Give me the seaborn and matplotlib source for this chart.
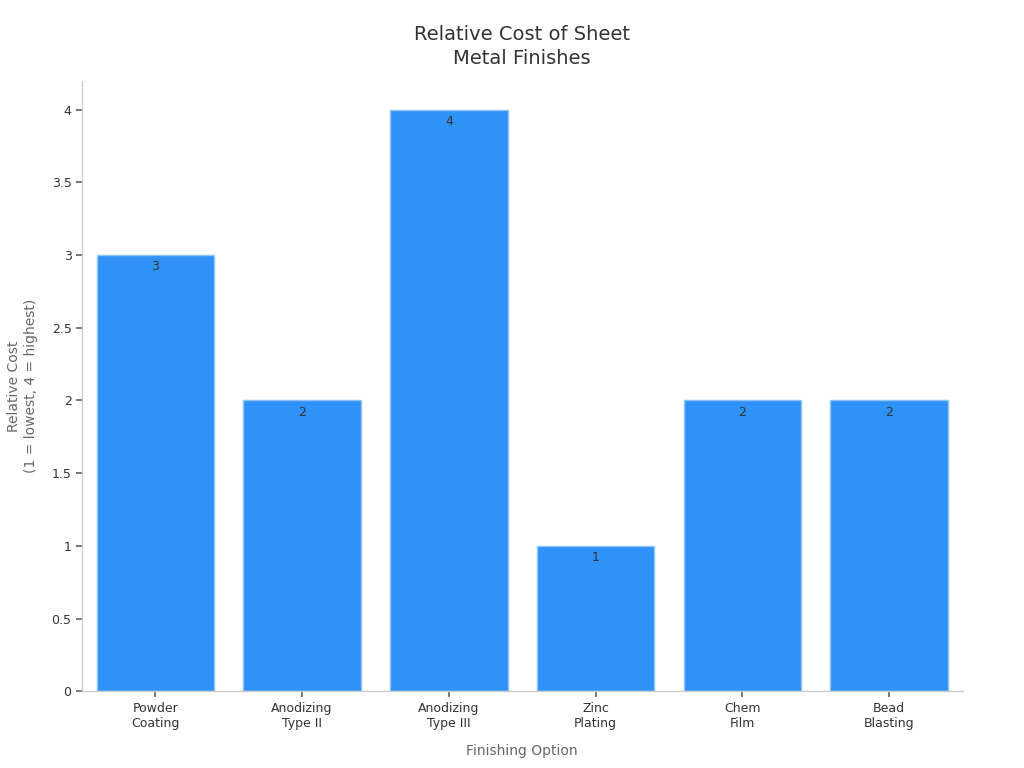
import pandas as pd
import seaborn as sns
import matplotlib.pyplot as plt

# Data
finishes = ['Powder\nCoating', 'Anodizing\nType II', 'Anodizing\nType III',
            'Zinc\nPlating', 'Chem\nFilm', 'Bead\nBlasting']
relative_cost = [3, 2, 4, 1, 2, 2]

df = pd.DataFrame({'Finishing Option': finishes, 'Relative Cost': relative_cost})

sns.set_theme(style='white')
plt.rcParams['font.family'] = ['DejaVu Sans']

fig, ax = plt.subplots(figsize=(10.24, 7.68), dpi=100)
sns.barplot(x='Finishing Option', y='Relative Cost', data=df, color='#2e92f8',
            saturation=1, width=0.8, edgecolor='#8cc4fb', linewidth=1, ax=ax)

# value labels just inside the top of each bar
for container in ax.containers:
    ax.bar_label(container, labels=[str(v) for v in relative_cost], padding=-13,
                 fontsize=9, color='#333333')

ax.set_title('Relative Cost of Sheet\nMetal Finishes', fontsize=14, color='#333333',
             pad=12, linespacing=1.35)
ax.set_xlabel('Finishing Option', fontsize=10, color='#666666', labelpad=10)
ax.set_ylabel('Relative Cost\n(1 = lowest, 4 = highest)', fontsize=10, color='#666666', labelpad=10)
ax.set_ylim(0, 4.2)
ax.set_xlim(-0.5, 5.5)
ax.set_yticks([0, 0.5, 1, 1.5, 2, 2.5, 3, 3.5, 4])
ax.set_yticklabels(['0', '0.5', '1', '1.5', '2', '2.5', '3', '3.5', '4'])
ax.tick_params(axis='both', labelsize=9, colors='#333333', length=4, color='#666666')
ax.tick_params(axis='both', bottom=True, left=True)

sns.despine(ax=ax)
for side in ['left', 'bottom']:
    ax.spines[side].set_color('#cccccc')
    ax.spines[side].set_linewidth(1)

plt.subplots_adjust(left=0.08, right=0.94, top=0.895, bottom=0.1)
plt.savefig('out.png', dpi=100)
